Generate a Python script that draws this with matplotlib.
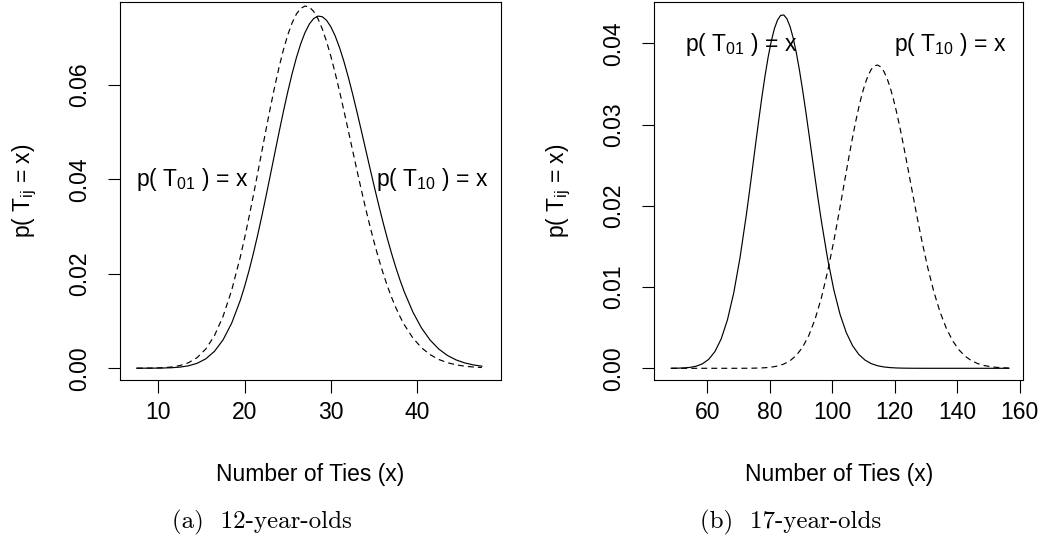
import matplotlib
matplotlib.use("Agg")
import matplotlib.pyplot as plt

plt.rcParams['font.family'] = ['Liberation Sans', 'DejaVu Sans']
plt.rcParams['mathtext.fontset'] = 'custom'

# (a) 12-year-olds -- finer steps around the peak
ties_a = [7.5, 8.5, 9.5, 10.5, 11.5, 12.5, 13.5, 14.5, 15.5, 16.5, 17.5, 18.5,
          19.5, 20, 20.5, 21, 21.5, 22, 22.5, 23, 23.5, 24, 24.5, 25, 25.5,
          26, 26.5, 27, 27.5, 28, 28.5, 29, 29.5, 30, 30.5, 31, 31.5, 32,
          32.5, 33, 33.5, 34, 34.5, 35, 35.5, 36, 36.5, 37, 37.5, 38, 38.5,
          39.5, 40.5, 41.5, 42.5, 43.5, 44.5, 45.5, 46.5, 47.5]
t10_a = [0.0000011, 0.0000041, 0.0000129, 0.0000371, 0.0000966, 0.000231,
         0.000508, 0.001039, 0.001985, 0.003555, 0.005991, 0.009536,
         0.014379, 0.017318, 0.020598, 0.024203, 0.028102, 0.032253,
         0.036597, 0.041068, 0.045587, 0.050068, 0.054419, 0.058548,
         0.062364, 0.065781, 0.068720, 0.071118, 0.072920, 0.074091,
         0.074613, 0.074482, 0.073713, 0.072337, 0.070396, 0.067949,
         0.065060, 0.061802, 0.058249, 0.054481, 0.050571, 0.046593,
         0.042614, 0.038693, 0.034883, 0.031227, 0.027761, 0.024512,
         0.021496, 0.018727, 0.016207, 0.011906, 0.008528, 0.005959,
         0.004065, 0.002708, 0.001763, 0.001123, 0.000699, 0.000426]
t01_a = [0.0000036, 0.0000123, 0.0000369, 0.000100, 0.000247, 0.000557,
         0.001161, 0.002248, 0.004061, 0.006879, 0.010966, 0.016510,
         0.023548, 0.027583, 0.031908, 0.036463, 0.041176, 0.045960,
         0.050721, 0.055356, 0.059762, 0.063836, 0.067481, 0.070610,
         0.073149, 0.075041, 0.076244, 0.076739, 0.076526, 0.075623,
         0.074066, 0.071908, 0.069213, 0.066058, 0.062523, 0.058694,
         0.054657, 0.050496, 0.046288, 0.042105, 0.038013, 0.034062,
         0.030299, 0.026756, 0.023460, 0.020425, 0.017660, 0.015165,
         0.012935, 0.010960, 0.009225, 0.006410, 0.004343, 0.002871,
         0.001852, 0.001167, 0.000719, 0.000433, 0.000255, 0.000147]

# (b) 17-year-olds -- each curve on its own grid
ties_b_t01 = [48.5, 50.5, 52.5, 54.5, 56.5, 58.5, 60.5, 62.5, 64.5, 66.5,
              68.5, 70.5, 72.5, 73.5, 74.5, 75.5, 76.5, 77.5, 78.5, 79.5,
              80.5, 81.5, 82.5, 83.5, 84.5, 85.5, 86.5, 87.5, 88.5, 89.5,
              90.5, 91.5, 92.5, 93.5, 94.5, 95.5, 96.5, 98.5, 100.5, 102.5,
              104.5, 106.5, 108.5, 110.5, 112.5, 114.5, 116.5, 118.5, 120.5,
              122.5, 124.5, 126.5, 128.5, 130.5, 132.5, 134.5, 136.5, 138.5,
              140.5, 142.5, 144.5, 146.5, 148.5, 150.5, 152.5, 154.5, 156.5]
t01_b = [0.0000059, 0.0000171, 0.0000455, 0.000112, 0.000258, 0.000553,
         0.001105, 0.002067, 0.003625, 0.005977, 0.009279, 0.013588,
         0.018800, 0.021659, 0.024615, 0.027602, 0.030543, 0.033359,
         0.035968, 0.038290, 0.040252, 0.041793, 0.042863, 0.043431,
         0.043483, 0.043023, 0.042072, 0.040670, 0.038867, 0.036727,
         0.034320, 0.031718, 0.028994, 0.026219, 0.023458, 0.020767,
         0.018192, 0.013536, 0.009670, 0.006639, 0.004384, 0.002786,
         0.001705, 0.001006, 0.000572, 0.000314, 0.000167, 0.0000855,
         0.0000423, 0.0000203, 0.0000094, 0.0000042, 0.0000018,
         0, 0, 0, 0, 0, 0, 0, 0, 0, 0, 0, 0, 0, 0]
ties_b_t10 = [48.5, 50.5, 52.5, 54.5, 56.5, 58.5, 60.5, 62.5, 64.5, 66.5,
              68.5, 70.5, 72.5, 74.5, 76.5, 78.5, 80.5, 82.5, 84.5, 86.5,
              88.5, 90.5, 92.5, 94.5, 96.5, 98.5, 100.5, 101.5, 102.5, 103.5,
              104.5, 105.5, 106.5, 107.5, 108.5, 109.5, 110.5, 111.5, 112.5,
              113.5, 114.5, 115.5, 116.5, 117.5, 118.5, 119.5, 120.5, 121.5,
              122.5, 123.5, 124.5, 125.5, 126.5, 127.5, 128.5, 130.5, 132.5,
              134.5, 136.5, 138.5, 140.5, 142.5, 144.5, 146.5, 148.5, 150.5,
              152.5, 154.5, 156.5]
t10_b = [0, 0, 0, 0, 0, 0, 0, 0, 0, 0, 0,
         0.0000022, 0.0000057, 0.0000137, 0.0000314, 0.0000682, 0.000141,
         0.000277, 0.000519, 0.000928, 0.001584, 0.002584, 0.004032,
         0.006026, 0.008633, 0.011865, 0.015657, 0.017719, 0.019855,
         0.022033, 0.024216, 0.026361, 0.028425, 0.030364, 0.032136,
         0.033699, 0.035016, 0.036057, 0.036797, 0.037220, 0.037323,
         0.037096, 0.036552, 0.035708, 0.034589, 0.033223, 0.031645,
         0.029893, 0.028006, 0.026025, 0.023989, 0.021935, 0.019899,
         0.017909, 0.015992, 0.012458, 0.009412, 0.006900, 0.004910,
         0.003393, 0.002278, 0.001486, 0.000943, 0.000582, 0.000349,
         0.000204, 0.000116, 0.0000644, 0.0000348]

xticks_a = [10, 20, 30, 40]
yticks_a = [0.00, 0.02, 0.04, 0.06]
xticks_b = [60, 80, 100, 120, 140, 160]
yticks_b = [0.00, 0.01, 0.02, 0.03, 0.04]

FS = 16.5
W, H = 1057, 544
fig = plt.figure(figsize=(W / 100, H / 100), dpi=100)


def panel(rect, solid, dashed, xlim, ylim, xticks, yticks, labels,
          caption, cap_x):
    ax = fig.add_axes(rect)
    ax.plot(solid[0], solid[1], color='black', lw=0.85)
    ax.plot(dashed[0], dashed[1], color='black', lw=0.85, dashes=(5, 3.5))
    ax.set_xlim(*xlim)
    ax.set_ylim(*ylim)
    ax.set_xticks(xticks)
    ax.set_yticks(yticks)
    ax.set_xticklabels([str(t) for t in xticks], fontsize=FS)
    ax.set_yticklabels(['%.2f' % t for t in yticks], fontsize=FS,
                       rotation=90, va='center')
    ax.tick_params(length=9, width=0.8)
    ax.tick_params(axis='x', pad=6)
    ax.tick_params(axis='y', pad=12)
    for s in ax.spines.values():
        s.set_linewidth(0.8)
    for tx, ty, txt in labels:
        ax.text(tx, ty, txt, fontsize=FS, ha='center', va='center')
    x0, y0, w, h = rect
    fig.text(x0 + w / 2, 1 - 474 / H, 'Number of Ties (x)', fontsize=FS,
             ha='center', va='center')
    fig.text(x0 - 95 / W, y0 + h / 2, r'p( $\mathregular{T_{ij}}$ = x)',
             fontsize=FS, rotation=90, ha='center', va='center')
    fig.text(cap_x / W, 1 - 522 / H, caption, fontsize=18,
             family=['cmr10', 'DejaVu Serif'], ha='center', va='center')
    return ax


T01 = r'p( $\mathregular{T_{01}}$ ) = x'
T10 = r'p( $\mathregular{T_{10}}$ ) = x'

panel([120 / W, 1 - 380 / H, 380.7 / W, 378 / H],
      (ties_a, t10_a), (ties_a, t01_a),
      (5.56, 49.68), (-0.0025, 0.0776), xticks_a, yticks_a,
      [(13.9, 0.0399, T01), (41.7, 0.0399, T10)],
      '(a)  12-year-olds', 262)
panel([654.3 / W, 1 - 380 / H, 369 / W, 378 / H],
      (ties_b_t01, t01_b), (ties_b_t10, t10_b),
      (43.1, 161.1), (-0.00144, 0.04508), xticks_b, yticks_b,
      [(71.0, 0.0399, T01), (137.7, 0.0399, T10)],
      '(b)  17-year-olds', 791)

fig.savefig('out.png', dpi=100)
